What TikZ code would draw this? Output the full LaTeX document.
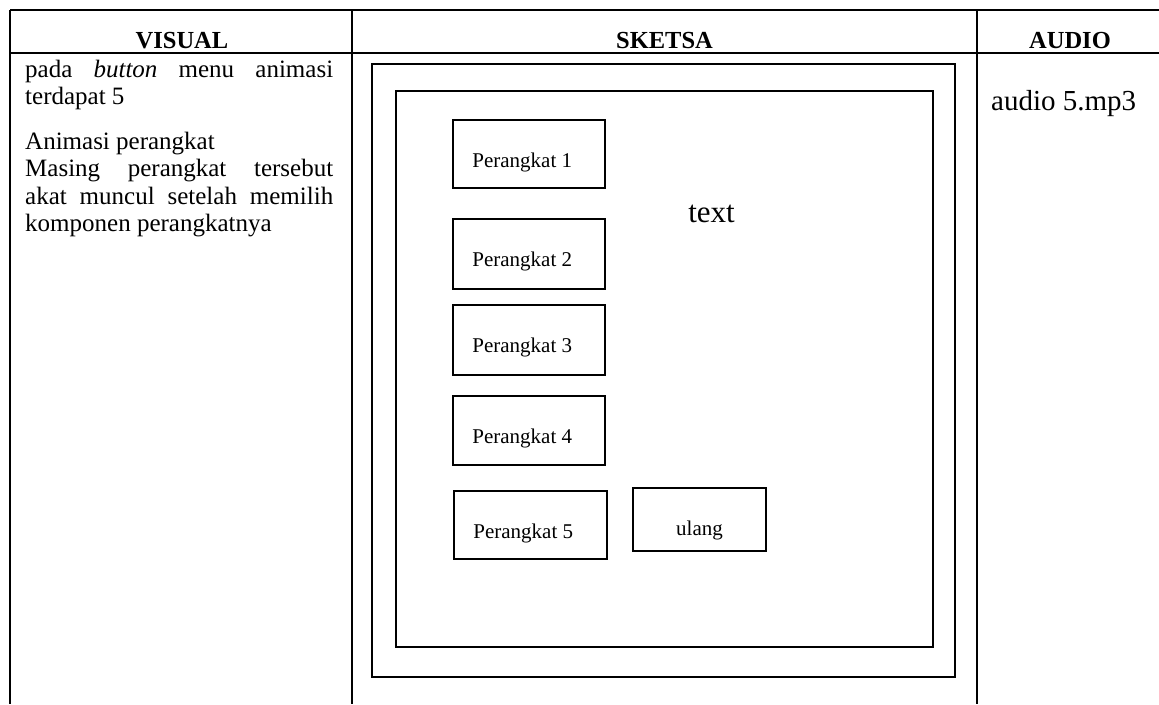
\documentclass[tikz,border=0pt]{standalone}
\usepackage{fontspec}
\setmainfont{Liberation Serif}
\begin{document}
\begin{tikzpicture}[x=1pt,y=-1pt,
  rule/.style={line width=1.7pt},
  frame/.style={draw, line width=1.6pt, inner sep=0pt},
  btn/.style={draw, line width=1.6pt, inner sep=0pt},
  lbl/.style={font=\fontsize{21}{25}\selectfont, inner sep=0pt},
  head/.style={font=\fontsize{24.5}{28}\selectfont\bfseries, anchor=base},
  body/.style={font=\fontsize{25}{27.3}\selectfont}]
\useasboundingbox (0,0) rectangle (1159,704);
% table rules
\coordinate (tl) at (10,10);
\coordinate (tr) at (1159,10);
\coordinate (hl) at (10,53);
\coordinate (hr) at (1159,53);
\coordinate (c0b) at (10,704);
\coordinate (c1t) at (352,10);
\coordinate (c1b) at (352,704);
\coordinate (c2t) at (977,10);
\coordinate (c2b) at (977,704);
\draw[rule] (tl) -- (tr);
\draw[rule] (hl) -- (hr);
\draw[rule] (tl) -- (c0b);
\draw[rule] (c1t) -- (c1b);
\draw[rule] (c2t) -- (c2b);
% headers
\node[head] (hv) at (182,48) {VISUAL};
\node[head] (hs) at (664.5,48) {SKETSA};
\node[head] (ha) at (1070,48) {AUDIO};
% visual text
\node[body, anchor=base west, inner sep=0pt, text width=308pt, align=justify] (vt) at (25,77)
  {pada \textit{button} menu animasi\linebreak terdapat 5\par\vspace{18pt}
   Animasi perangkat\newline Masing perangkat tersebut\linebreak akat muncul setelah memilih\linebreak komponen perangkatnya\par};
% audio
\node[font=\fontsize{29}{33}\selectfont, anchor=base west, inner sep=0pt] (au) at (991,110) {audio 5.mp3};
% sketch frames
\node[frame, minimum width=583pt, minimum height=613pt] (outer) at (663.5,370.5) {};
\node[frame, minimum width=537pt, minimum height=556pt] (inner) at (664.5,369) {};
% buttons
\node[btn, minimum width=152pt, minimum height=68pt] (p1) at (529,154) {};
\node[btn, minimum width=152pt, minimum height=70pt] (p2) at (529,254) {};
\node[btn, minimum width=152pt, minimum height=70pt] (p3) at (529,340) {};
\node[btn, minimum width=152pt, minimum height=69pt] (p4) at (529,430.5) {};
\node[btn, minimum width=153pt, minimum height=68pt] (p5) at (530.5,525) {};
\node[btn, minimum width=133pt, minimum height=63pt] (ul) at (699.5,519.5) {};
\node[lbl, anchor=base west] (p1t) at ([xshift=20pt,yshift=-48pt]p1.north west) {Perangkat 1};
\node[lbl, anchor=base west] (p2t) at ([xshift=20pt,yshift=-48pt]p2.north west) {Perangkat 2};
\node[lbl, anchor=base west] (p3t) at ([xshift=20pt,yshift=-48pt]p3.north west) {Perangkat 3};
\node[lbl, anchor=base west] (p4t) at ([xshift=20pt,yshift=-48pt]p4.north west) {Perangkat 4};
\node[lbl, anchor=base west] (p5t) at ([xshift=20pt,yshift=-48pt]p5.north west) {Perangkat 5};
\node[lbl, anchor=base] (ult) at (699.5,535) {ulang};
% text label
\node[font=\fontsize{31}{35}\selectfont, anchor=base, inner sep=0pt] (tx) at (711.5,222) {text};
\end{tikzpicture}
\end{document}
